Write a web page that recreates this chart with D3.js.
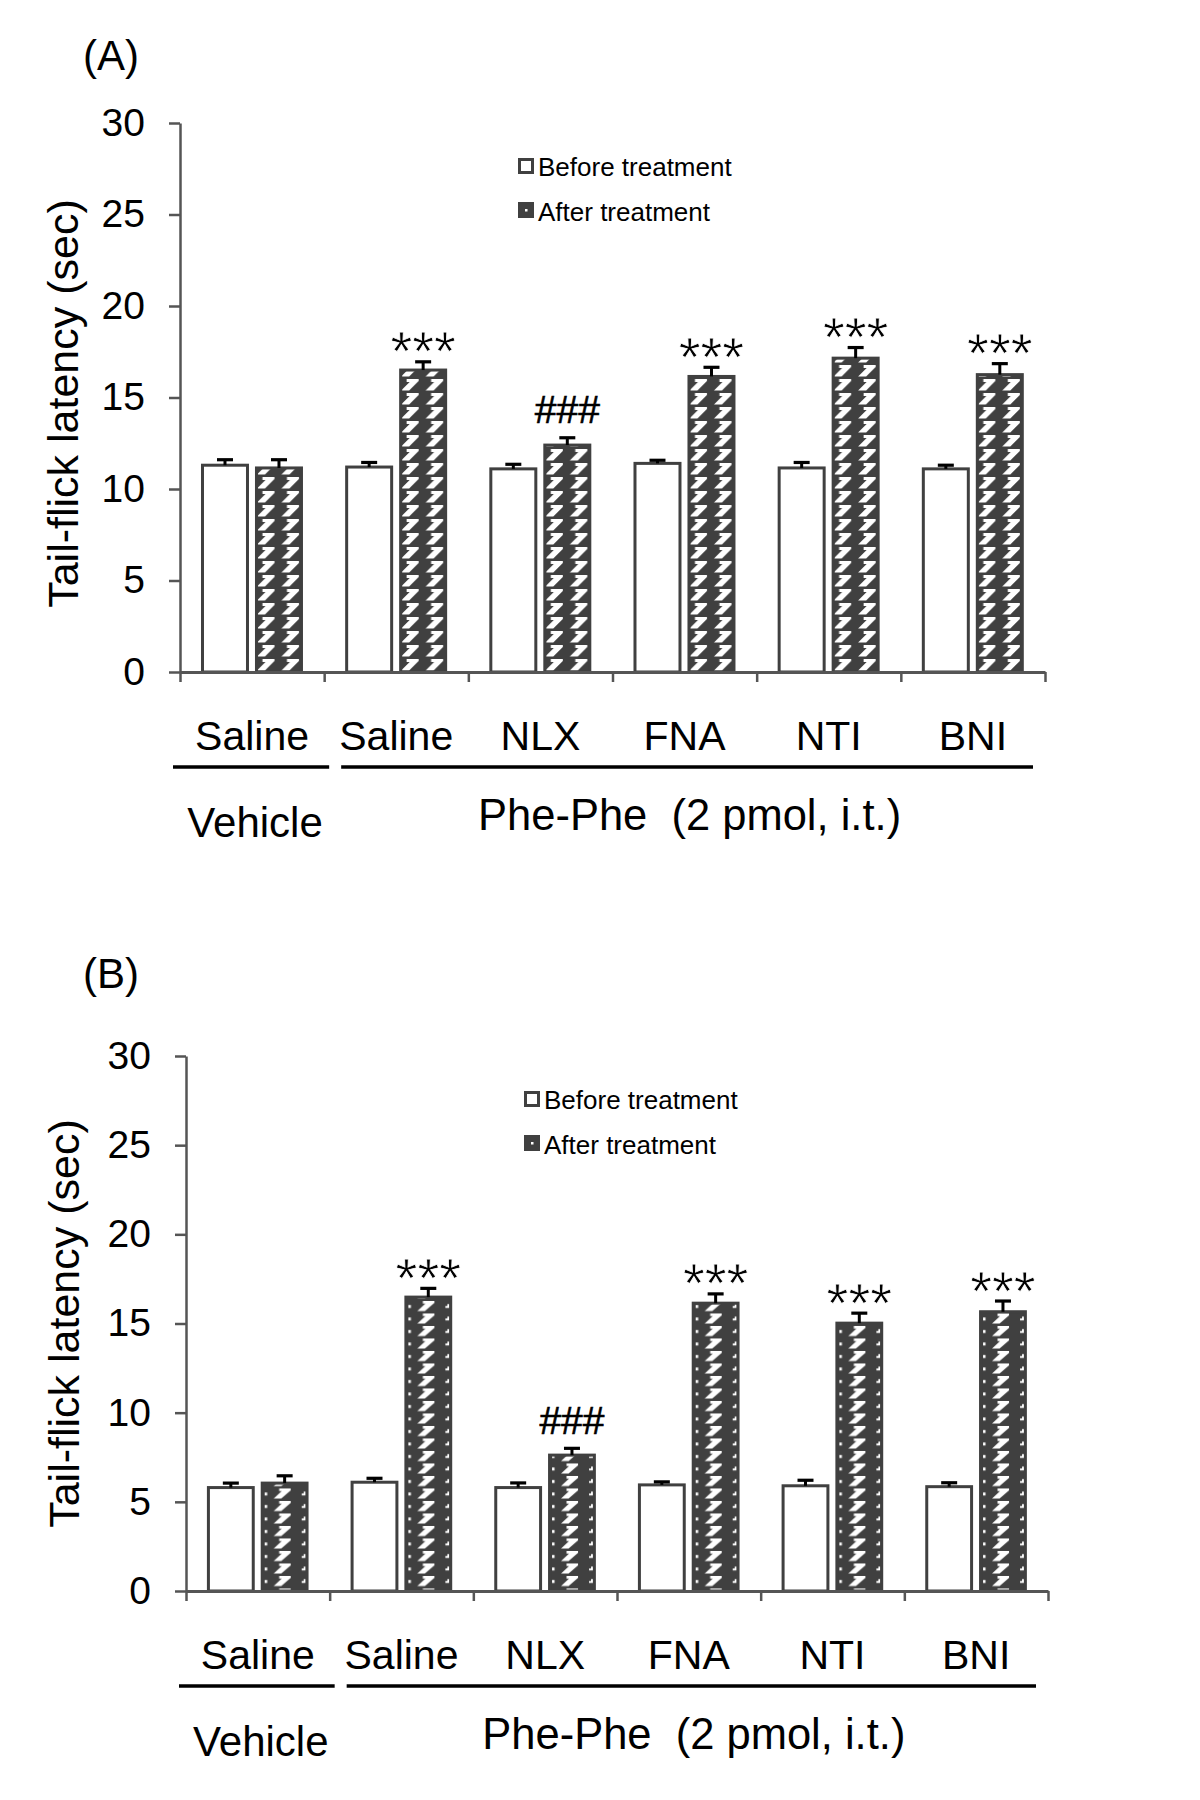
<!DOCTYPE html>
<html>
<head>
<meta charset="utf-8">
<script src="https://cdn.jsdelivr.net/npm/d3@7"></script>
<style>
  body { margin: 0; background: #fff; }
  text { font-family: "Liberation Sans", Arial, sans-serif; }
</style>
</head>
<body>
<script>
// ---------- DATA ----------
const categories = ["Saline", "Saline", "NLX", "FNA", "NTI", "BNI"];
const groupLabels = ["Vehicle", "Phe-Phe  (2 pmol, i.t.)"];
const seriesNames = ["Before treatment", "After treatment"];
const yTicks = [0, 5, 10, 15, 20, 25, 30];

// Panel A
const beforeA = [11.3, 11.2, 11.1, 11.4, 11.15, 11.1];
const beforeErrA = [0.3, 0.25, 0.25, 0.17, 0.3, 0.2];
const afterA = [11.15, 16.5, 12.4, 16.15, 17.15, 16.25];
const afterErrA = [0.45, 0.45, 0.4, 0.5, 0.58, 0.6];
const marksA = ["", "***", "###", "***", "***", "***"];

// Panel B
const beforeB = [5.8, 6.1, 5.8, 5.95, 5.9, 5.85];
const beforeErrB = [0.25, 0.22, 0.26, 0.17, 0.31, 0.22];
const afterB = [6.05, 16.48, 7.62, 16.14, 15.02, 15.66];
const afterErrB = [0.41, 0.49, 0.38, 0.52, 0.56, 0.6];
const marksB = ["", "***", "###", "***", "***", "***"];

const yTitle = "Tail-flick latency (sec)";

// ---------- DRAW ----------
const svg = d3.select("body").append("svg")
  .attr("width", 1200).attr("height", 1800)
  .style("background", "#fff");

const DARK = "#404040";
const AXIS = "#555555";
const defs = svg.append("defs");

// Pattern A: two chunky zig-zag columns per bar
const pA = defs.append("pattern").attr("id", "patA")
  .attr("patternUnits", "userSpaceOnUse").attr("width", 24.5).attr("height", 14);
pA.append("rect").attr("width", 24.5).attr("height", 14).attr("fill", DARK);
pA.append("path").attr("fill", "#fff")
  .attr("d", "M2,12.5 L10,12.5 L19.5,3 L19.5,1 L7.5,1 L7.5,4 L10.5,4 Z");

// Pattern B: dot, zig-zag, dot
const pB = defs.append("pattern").attr("id", "patB")
  .attr("patternUnits", "userSpaceOnUse").attr("width", 48).attr("height", 12.5);
pB.append("rect").attr("width", 48).attr("height", 12.5).attr("fill", DARK);
pB.append("path").attr("fill", "#fff")
  .attr("d", "M13,11 L20.5,11 L30,2.8 L30,1 L18.5,1 L18.5,3.5 L21,3.5 Z");
pB.append("rect").attr("x", 4).attr("y", 5).attr("width", 2.5).attr("height", 3).attr("fill", "#fff");
pB.append("path").attr("fill", "#fff").attr("d", "M41,8 L45,8 L45,4 L43,4 L43,6 L41,6 Z");

function drawPanel(cfg) {
  const g = svg.append("g");
  const y = d3.scaleLinear().domain([0, 30]).range([cfg.y0, cfg.y30]);
  const xb = d3.scaleBand().domain(d3.range(categories.length)).range([cfg.x0, cfg.x1]);
  const bw = xb.bandwidth();
  const inner = d3.scaleBand().domain(["before", "after"])
    .range([bw * 0.1456, bw * 0.853]).paddingInner(0.111);
  const xl = d3.scaleLinear().domain([0, categories.length]).range([cfg.x0, cfg.x1]);

  categories.forEach((c, i) => {
    const bx = xb(i) + inner("before");
    const ax = xb(i) + inner("after");
    const w = inner.bandwidth();
    g.append("rect")
      .attr("x", bx + 1.5).attr("y", y(cfg.before[i]))
      .attr("width", w - 3).attr("height", y(0) - y(cfg.before[i]))
      .attr("fill", "#fff").attr("stroke", DARK).attr("stroke-width", 3);
    const ga = g.append("g").attr("transform", `translate(${ax},0)`);
    ga.append("rect")
      .attr("x", 1.5).attr("y", y(cfg.after[i]))
      .attr("width", w - 3).attr("height", y(0) - y(cfg.after[i]))
      .attr("fill", `url(#${cfg.pat})`).attr("stroke", DARK).attr("stroke-width", 3);

    [[bx, cfg.before[i], cfg.beforeErr[i]], [ax, cfg.after[i], cfg.afterErr[i]]].forEach(([x, v, e]) => {
      const cx = x + w / 2;
      g.append("line").attr("x1", cx).attr("x2", cx)
        .attr("y1", y(v)).attr("y2", y(v + e))
        .attr("stroke", "#000").attr("stroke-width", 3);
      g.append("line").attr("x1", cx - 8).attr("x2", cx + 8)
        .attr("y1", y(v + e)).attr("y2", y(v + e))
        .attr("stroke", "#000").attr("stroke-width", 3.2);
    });

    const m = cfg.marks[i];
    if (m) {
      const capTop = y(cfg.after[i] + cfg.afterErr[i]) - 1.5;
      const isStar = m.includes("*");
      const t = g.append("text")
        .attr("x", ax + w / 2)
        .attr("y", isStar ? capTop + 10 : capTop - 13)
        .attr("text-anchor", "middle")
        .attr("font-size", isStar ? 56 : 39)
        .attr("fill", "#000")
        .text(m);
      if (isStar) t.attr("stroke", "#fff").attr("stroke-width", 0.8);
      else t.attr("stroke", "#000").attr("stroke-width", 0.6);
    }
  });

  // y axis
  const ya = g.append("g").attr("transform", `translate(${cfg.x0},0)`)
    .call(d3.axisLeft(y).tickValues(yTicks).tickSize(11).tickSizeOuter(0).tickPadding(24));
  ya.select(".domain").attr("stroke", AXIS).attr("stroke-width", 2.5);
  ya.selectAll(".tick line").attr("stroke", AXIS).attr("stroke-width", 2.5);
  ya.selectAll(".tick text").attr("font-size", 39).attr("fill", "#000")
    .attr("font-family", "Liberation Sans, Arial, sans-serif");

  // x axis
  const xa = g.append("g").attr("transform", `translate(0,${cfg.y0})`)
    .call(d3.axisBottom(xl).tickValues(d3.range(categories.length + 1)).tickSize(10).tickSizeOuter(0).tickFormat(""));
  xa.select(".domain").attr("stroke", AXIS).attr("stroke-width", 3);
  xa.selectAll(".tick line").attr("stroke", AXIS).attr("stroke-width", 2.5);

  // category labels
  categories.forEach((c, i) => {
    g.append("text").attr("x", xb(i) + bw / 2).attr("y", cfg.y0 + 78)
      .attr("text-anchor", "middle").attr("font-size", 41).attr("fill", "#000").text(c);
  });

  // group lines
  const lineY = cfg.y0 + 95;
  g.append("line").attr("x1", xb(0) - 7).attr("x2", xb(1) + 5)
    .attr("y1", lineY).attr("y2", lineY).attr("stroke", "#000").attr("stroke-width", 3.5);
  g.append("line").attr("x1", xb(1) + 17).attr("x2", cfg.x1 - 12)
    .attr("y1", lineY).attr("y2", lineY).attr("stroke", "#000").attr("stroke-width", 3.5);

  // group labels
  g.append("text").attr("x", xb(0) + bw / 2 + 3).attr("y", cfg.y0 + 165)
    .attr("text-anchor", "middle").attr("font-size", 42).attr("fill", "#000").text(groupLabels[0]);
  g.append("text").attr("x", (xb(1) + cfg.x1) / 2 + 5).attr("y", cfg.y0 + 158)
    .attr("text-anchor", "middle").attr("font-size", 43.5).attr("fill", "#000")
    .style("white-space", "pre").text(groupLabels[1]);

  // y title
  g.append("text")
    .attr("transform", `translate(${cfg.titleX},${(cfg.y0 + cfg.y30) / 2 + cfg.titleDy}) rotate(-90)`)
    .attr("text-anchor", "middle").attr("font-size", 43).attr("fill", "#000").text(yTitle);

  // panel letter
  g.append("text").attr("x", 83).attr("y", cfg.letterY)
    .attr("font-size", 42).attr("fill", "#000").text(cfg.letter);

  // legend
  const lx = cfg.x0 + 338, ly = cfg.y30 + 35;
  g.append("rect").attr("x", lx + 1.5).attr("y", ly + 1.5).attr("width", 13).attr("height", 13)
    .attr("fill", "#fff").attr("stroke", DARK).attr("stroke-width", 3);
  g.append("text").attr("x", lx + 20).attr("y", ly + 18).attr("font-size", 26).attr("fill", "#000").text(seriesNames[0]);
  g.append("rect").attr("x", lx + 1.5).attr("y", ly + 45.5).attr("width", 13).attr("height", 13)
    .attr("fill", DARK).attr("stroke", DARK).attr("stroke-width", 3);
  g.append("rect").attr("x", lx + 7).attr("y", ly + 51).attr("width", 2.5).attr("height", 2.5).attr("fill", "#fff");
  g.append("text").attr("x", lx + 20).attr("y", ly + 63).attr("font-size", 26).attr("fill", "#000").text(seriesNames[1]);
}

drawPanel({
  letter: "(A)", letterY: 70, titleX: 78, titleDy: 6,
  x0: 180, x1: 1045, y0: 672, y30: 123, pat: "patA",
  before: beforeA, beforeErr: beforeErrA, after: afterA, afterErr: afterErrA, marks: marksA
});
drawPanel({
  letter: "(B)", letterY: 988, titleX: 79, titleDy: 0,
  x0: 186, x1: 1048, y0: 1591, y30: 1056, pat: "patB",
  before: beforeB, beforeErr: beforeErrB, after: afterB, afterErr: afterErrB, marks: marksB
});
</script>
</body>
</html>
